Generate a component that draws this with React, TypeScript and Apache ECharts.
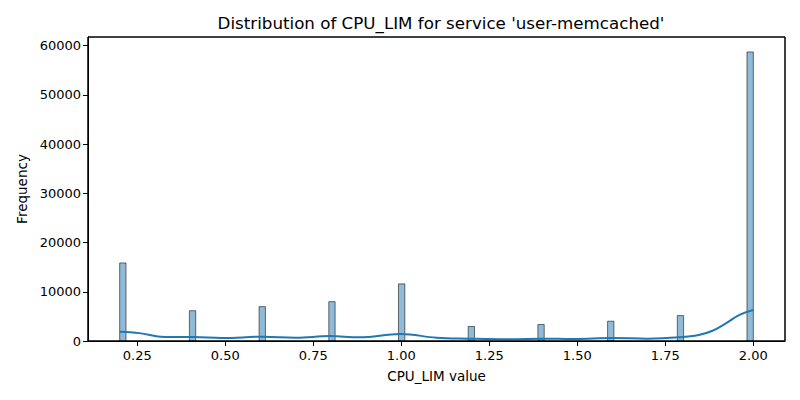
import React, { useEffect, useRef } from "react";
import * as echarts from "echarts";

const binStarts = [0.2, 0.398, 0.596, 0.794, 0.992, 1.19, 1.388, 1.586, 1.784, 1.982];
const binWidth = 0.018;
const counts = [15850, 6150, 6980, 7990, 11600, 2950, 3350, 4020, 5160, 58700];

const kdeX = [0.2, 0.256, 0.327, 0.41, 0.49, 0.607, 0.7, 0.797, 0.88, 0.998, 1.1, 1.19, 1.31, 1.4, 1.49, 1.6, 1.7, 1.79, 1.845, 1.884, 1.923, 1.962, 2.0];
const kdeY = [1880, 1600, 800, 800, 600, 870, 670, 1000, 740, 1410, 670, 470, 340, 470, 400, 600, 470, 740, 1210, 2080, 3620, 5370, 6310];

const xTicks = [0.25, 0.5, 0.75, 1.0, 1.25, 1.5, 1.75, 2.0];
const yTicks = [0, 10000, 20000, 30000, 40000, 50000, 60000];

const FONT = "DejaVu Sans";

export default function App() {
  const ref = useRef<HTMLDivElement>(null);
  useEffect(() => {
    if (!ref.current) return;
    const chart = echarts.init(ref.current, null, { renderer: "svg" });
    const barData = binStarts.map((s, i) => [s, s + binWidth, counts[i]]);
    const lineData = kdeX.map((x, i) => [x, kdeY[i]]);
    chart.setOption({
      animation: false,
      backgroundColor: "#ffffff",
      title: {
        text: "Distribution of CPU_LIM for service 'user-memcached'",
        left: 436,
        textAlign: "center",
        top: 9,
        textStyle: { fontFamily: FONT, fontSize: 16.7, fontWeight: "normal", color: "#000" },
      },
      grid: {
        left: 88,
        right: 15,
        top: 37,
        bottom: 59,
        show: true,
        borderColor: "#000",
        borderWidth: 1,
        backgroundColor: "transparent",
      },
      graphic: [
        {
          type: "rect",
          shape: { x: 88, y: 37, width: 697, height: 304 },
          style: { fill: "none", stroke: "#000", lineWidth: 1 },
          silent: true,
          z: 10,
        },
      ],
      xAxis: {
        type: "value",
        min: 0.11,
        max: 2.09,
        name: "CPU_LIM value",
        nameLocation: "middle",
        nameGap: 28,
        nameTextStyle: { fontFamily: FONT, fontSize: 13.5, color: "#000" },
        splitLine: { show: false },
        axisLine: { show: true, lineStyle: { color: "#000", width: 1 } },
        axisTick: { show: true, length: 5, lineStyle: { color: "#000" }, customValues: xTicks },
        axisLabel: {
          customValues: xTicks,
          fontFamily: FONT,
          fontSize: 13,
          color: "#000",
          margin: 8,
          formatter: (v: number) => v.toFixed(2),
        },
      },
      yAxis: {
        type: "value",
        min: 0,
        max: 61740,
        name: "Frequency",
        nameLocation: "middle",
        nameGap: 59,
        nameTextStyle: { fontFamily: FONT, fontSize: 13.5, color: "#000" },
        splitLine: { show: false },
        axisLine: { show: true, lineStyle: { color: "#000", width: 1 } },
        axisTick: { show: true, length: 5, lineStyle: { color: "#000" }, customValues: yTicks },
        axisLabel: {
          customValues: yTicks,
          fontFamily: FONT,
          fontSize: 13,
          color: "#000",
          margin: 7,
          formatter: (v: number) => String(v),
        },
      },
      series: [
        {
          type: "custom",
          data: barData,
          encode: { x: [0, 1], y: 2 },
          renderItem: (params: any, api: any) => {
            const p0 = api.coord([api.value(0), 0]);
            const p1 = api.coord([api.value(1), api.value(2)]);
            return {
              type: "rect",
              shape: { x: p0[0], y: p1[1], width: p1[0] - p0[0], height: p0[1] - p1[1] },
              style: {
                fill: "rgba(31,119,180,0.5)",
                stroke: "rgba(0,0,0,0.55)",
                lineWidth: 1,
              },
            };
          },
        },
        {
          type: "line",
          data: lineData,
          smooth: 0.4,
          showSymbol: false,
          symbol: "none",
          lineStyle: { color: "#1f77b4", width: 2 },
        },
      ],
    });
    return () => chart.dispose();
  }, []);
  return <div ref={ref} style={{ width: 800, height: 400, position: "absolute", left: 0, top: 0 }} />;
}
